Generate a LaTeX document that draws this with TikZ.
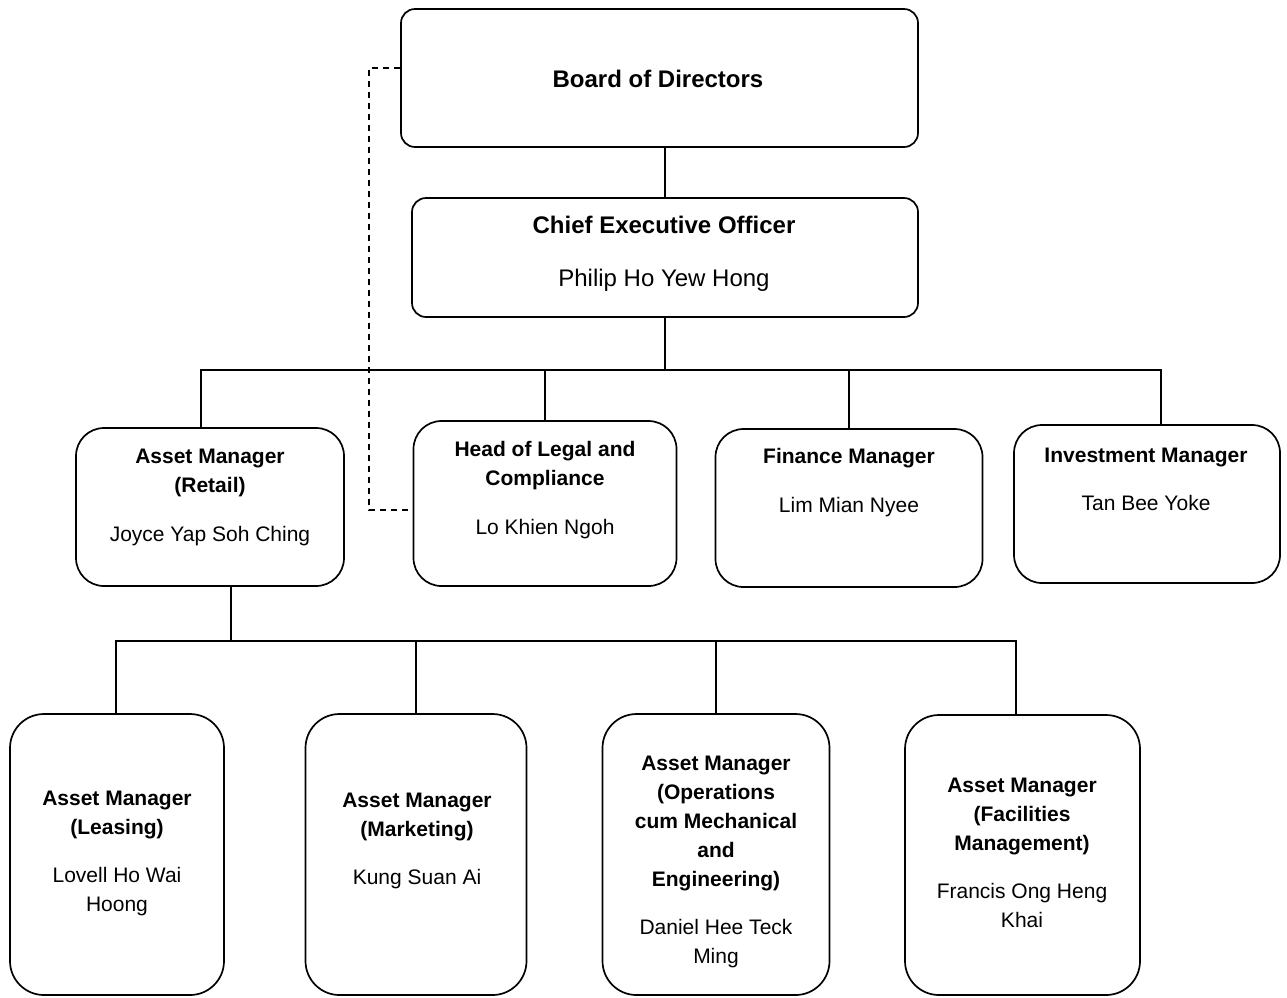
\documentclass[tikz,border=0pt]{standalone}
\usepackage{fontspec}
\setmainfont{Liberation Sans}
\begin{document}
\begin{tikzpicture}[x=1pt,y=1pt,
  box/.style={draw=black, line width=1.7pt, inner sep=0pt, fill=white},
  topbox/.style={box, rounded corners=14pt},
  midbox/.style={box, rounded corners=28pt},
  lowbox/.style={box, rounded corners=34pt},
  txt/.style={align=center, inner sep=0pt, font=\fontsize{21}{29}\selectfont},
  bigtxt/.style={align=center, inner sep=0pt, font=\fontsize{24}{29}\selectfont},
  conn/.style={line width=1.6pt},
  dashconn/.style={line width=1.9pt, dash pattern=on 6pt off 5pt}]
\useasboundingbox (0,0) rectangle (1287,-997);

% boxes
\node[topbox, minimum width=517, minimum height=138] (board) at (659.5,-78) {};
\node[topbox, minimum width=506, minimum height=119] (ceo) at (665,-257.5) {};
\node[midbox, minimum width=268, minimum height=158] (retail) at (210,-507) {};
\node[midbox, minimum width=263, minimum height=165] (legal) at (545,-503.5) {};
\node[midbox, minimum width=267, minimum height=158] (finance) at (849,-508) {};
\node[midbox, minimum width=266, minimum height=158] (invest) at (1147,-504) {};
\node[lowbox, minimum width=214, minimum height=281] (leasing) at (117,-854.5) {};
\node[lowbox, minimum width=221, minimum height=281] (marketing) at (416,-854.5) {};
\node[lowbox, minimum width=227, minimum height=281] (ops) at (716,-854.5) {};
\node[lowbox, minimum width=235, minimum height=280] (facil) at (1022.5,-855) {};

% texts
\node[bigtxt] (boardT) at (658,-79) {\textbf{Board of Directors}};
\node[bigtxt] (ceoT) at (664,-254) {\textbf{Chief Executive Officer}\\[24pt]Philip Ho Yew Hong};
\node[txt] (retailT) at (210,-497) {\textbf{Asset Manager}\\\textbf{(Retail)}\\[20pt]Joyce Yap Soh Ching};
\node[txt] (legalT) at (545,-490) {\textbf{Head of Legal and}\\\textbf{Compliance}\\[20pt]Lo Khien Ngoh};
\node[txt] (financeT) at (849,-483) {\textbf{Finance Manager}\\[20pt]Lim Mian Nyee};
\node[txt] (investT) at (1146,-479) {\textbf{Investment Manager}\\[19pt]Tan Bee Yoke};
\node[txt] (leasingT) at (117,-853) {\textbf{Asset Manager}\\\textbf{(Leasing)}\\[19pt]Lovell Ho Wai\\Hoong};
\node[txt] (marketingT) at (417,-841) {\textbf{Asset Manager}\\\textbf{(Marketing)}\\[19pt]Kung Suan Ai};
\node[txt] (opsT) at (716,-862) {\textbf{Asset Manager}\\\textbf{(Operations}\\\textbf{cum Mechanical}\\\textbf{and}\\\textbf{Engineering)}\\[19pt]Daniel Hee Teck\\Ming};
\node[txt] (facilT) at (1022,-853) {\textbf{Asset Manager}\\\textbf{(Facilities}\\\textbf{Management)}\\[19pt]Francis Ong Heng\\Khai};

% connectors
\draw[conn] (ceo.north) -- (ceo.north |- board.south);
\coordinate (bar) at (665,-370);
\coordinate (r1) at ([xshift=-9pt]retail.north);
\coordinate (i1) at ([xshift=14pt]invest.north);
\draw[conn] (ceo.south) -- (ceo.south |- bar);
\draw[conn] (r1) -- (r1 |- bar) -- (i1 |- bar) -- (i1);
\draw[conn] (legal.north) -- (legal.north |- bar);
\draw[conn] (finance.north) -- (finance.north |- bar);

\coordinate (bar2) at (231,-641);
\coordinate (r2) at ([xshift=21pt]retail.south);
\coordinate (l1) at ([xshift=-1pt]leasing.north);
\coordinate (f1) at ([xshift=-6.5pt]facil.north);
\draw[conn] (r2) -- (r2 |- bar2);
\draw[conn] (l1) -- (l1 |- bar2) -- (f1 |- bar2) -- (f1);
\draw[conn] (marketing.north) -- (marketing.north |- bar2);
\draw[conn] (ops.north) -- (ops.north |- bar2);

% dashed link
\coordinate (d1) at ([yshift=10pt]board.west);
\coordinate (d2) at ([yshift=-6.5pt]legal.west);
\coordinate (d3) at (369,-68);
\draw[dashconn] (d1) -- (d3) |- (d2);
\end{tikzpicture}
\end{document}
